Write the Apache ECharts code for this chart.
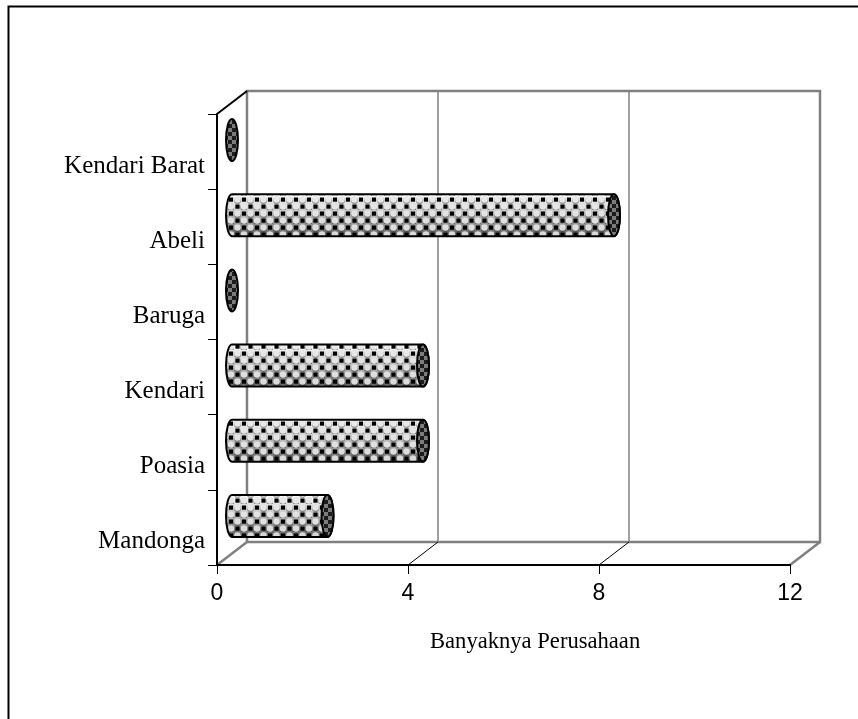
<!DOCTYPE html>
<html>
<head>
<meta charset="utf-8">
<style>html,body{margin:0;padding:0;background:#fff}#c{width:858px;height:719px}</style>
<script src="https://cdn.jsdelivr.net/npm/echarts@6/dist/echarts.min.js"></script>
</head>
<body>
<div id="c"></div>
<script>
const categories = ['Mandonga', 'Poasia', 'Kendari', 'Baruga', 'Abeli', 'Kendari Barat'];
const values = [2, 4, 4, 0, 8, 0];
const xTicks = [0, 4, 8, 12];
const xTitle = 'Banyaknya Perusahaan';

const DX = 30, DY = -23;      // depth of the 3D box
const RX = 6, BAR_H = 42;     // cylinder size

function makeBodyTile() {
  const c = document.createElement('canvas');
  c.width = 13; c.height = 14;
  const g = c.getContext('2d');
  const dot = (x, y) => {
    g.fillStyle = 'rgba(30,30,30,0.45)';
    g.beginPath(); g.arc(x, y + 0.8, 3.7, 0, Math.PI * 2); g.fill();
    g.fillStyle = 'rgba(255,255,255,0.8)';
    g.beginPath(); g.arc(x, y, 3.3, 0, Math.PI * 2); g.fill();
  };
  g.fillStyle = '#000';
  g.fillRect(7.9, 1.5, 4.2, 4.2);
  g.fillRect(1.4, 8.5, 4.2, 4.2);
  dot(3.5, 3.5);
  dot(10, 10.5);
  return c;
}
function makeCapTile() {
  const c = document.createElement('canvas');
  c.width = 8; c.height = 8;
  const g = c.getContext('2d');
  g.fillStyle = '#7c7c7c'; g.fillRect(0, 0, 8, 8);
  g.fillStyle = '#1c1c1c'; g.fillRect(0, 0, 4, 4); g.fillRect(4, 4, 4, 4);
  return c;
}
const bodyTile = makeBodyTile();
const capTile = makeCapTile();
const bodyGrad = { type: 'linear', x: 0, y: 0, x2: 0, y2: 1, colorStops: [
  { offset: 0, color: '#ffffff' }, { offset: 0.3, color: '#d8d8d8' },
  { offset: 0.65, color: '#a0a0a0' }, { offset: 1, color: '#5e5e5e' }] };

function renderCylinder(params, api) {
  const v = api.value(0), i = api.value(1);
  const p0 = api.coord([0, i]), p1 = api.coord([v, i]);
  const cy = p0[1] + DY / 2, x0 = p0[0] + DX / 2, x1 = p1[0] + DX / 2;
  const t = cy - BAR_H / 2, b = cy + BAR_H / 2;
  const pd = `M${x0} ${t}L${x1} ${t}A${RX} ${BAR_H / 2} 0 0 1 ${x1} ${b}L${x0} ${b}A${RX} ${BAR_H / 2} 0 0 1 ${x0} ${t}Z`;
  const shape = { pathData: pd, x: x0 - RX, y: t, width: x1 - x0 + 2 * RX, height: BAR_H };
  const ell = { cx: x1, cy: cy, rx: RX, ry: BAR_H / 2 };
  const children = [];
  if (v > 0) {
    children.push({ type: 'path', shape, style: { fill: bodyGrad, stroke: null } });
    children.push({ type: 'path', shape, style: { fill: { image: bodyTile, repeat: 'repeat' }, stroke: '#000', lineWidth: 2 } });
  }
  children.push({ type: 'ellipse', shape: ell, style: { fill: { image: capTile, repeat: 'repeat' }, stroke: '#000', lineWidth: 2 } });
  return { type: 'group', children };
}

function renderDepth(params, api) {
  const v = api.value(0);
  const p = api.coord([v, 0]);
  const bottom = p[1] + api.size([0, 1])[1] / 2;
  const edge = v === xTicks[0] || v === xTicks[xTicks.length - 1];
  const items = [{ type: 'line',
    shape: { x1: p[0], y1: bottom, x2: p[0] + DX, y2: bottom + DY },
    style: { stroke: edge ? '#808080' : '#000', lineWidth: edge ? 2.5 : 1 } }];
  if (v === xTicks[0]) {
    const top = bottom - api.size([0, 1])[1] * categories.length;
    items.push({ type: 'line',
      shape: { x1: p[0], y1: top, x2: p[0] + DX, y2: top + DY },
      style: { stroke: '#000', lineWidth: 2 } });
  }
  return { type: 'group', children: items };
}

const chart = echarts.init(document.getElementById('c'), null, { renderer: 'canvas' });
const axisMax = xTicks[xTicks.length - 1], axisStep = xTicks[1] - xTicks[0];
chart.setOption({
  animation: false,
  backgroundColor: '#fff',
  title: {
    text: xTitle, left: 425, top: 626,
    textStyle: { fontFamily: 'Liberation Serif', fontSize: 22.6, fontWeight: 'normal', color: '#000' }
  },
  graphic: [{
    type: 'rect', left: 6, top: 4, z: 0, silent: true,
    shape: { width: 900, height: 800 },
    style: { fill: null, stroke: '#000', lineWidth: 2 }
  }],
  grid: [
    { left: 217, top: 114, width: 573, height: 451, containLabel: false },
    { left: 247, top: 91, width: 573, height: 451, show: true, backgroundColor: 'transparent', borderColor: '#808080', borderWidth: 2.5 }
  ],
  xAxis: [
    { type: 'value', gridIndex: 0, min: 0, max: axisMax, interval: axisStep, z: 5,
      splitLine: { show: false },
      axisLine: { show: true, onZero: false, lineStyle: { color: '#000', width: 2 } },
      axisTick: { show: true, length: 9, lineStyle: { color: '#000', width: 1 } },
      axisLabel: { fontFamily: 'Liberation Sans', fontSize: 23, color: '#000', margin: 17 } },
    { type: 'value', gridIndex: 1, min: 0, max: axisMax, interval: axisStep,
      axisLine: { show: false }, axisTick: { show: false }, axisLabel: { show: false },
      splitLine: { show: true, lineStyle: { color: '#808080', width: 1.5 } } }
  ],
  yAxis: [
    { type: 'category', gridIndex: 0, data: categories, z: 5,
      axisLine: { show: true, onZero: false, lineStyle: { color: '#000', width: 2 } },
      axisTick: { show: true, length: 9, alignWithLabel: false, lineStyle: { color: '#000', width: 1 } },
      axisLabel: { fontFamily: 'Liberation Serif', fontSize: 25, color: '#000', margin: 12, verticalAlign: 'top', lineHeight: 29, interval: 0 } },
    { type: 'value', gridIndex: 1, min: 0, max: 1, show: false, splitLine: { show: false } }
  ],
  series: [
    { type: 'custom', name: 'depth', xAxisIndex: 0, yAxisIndex: 0, clip: false, z: 3, silent: true,
      renderItem: renderDepth, data: xTicks.map(v => [v]), encode: { x: 0 } },
    { type: 'custom', name: 'Banyaknya Perusahaan', xAxisIndex: 0, yAxisIndex: 0, clip: false, z: 6, silent: true,
      renderItem: renderCylinder, data: values.map((v, i) => [v, i]), encode: { x: 0, y: 1 } }
  ]
});
</script>
</body>
</html>
